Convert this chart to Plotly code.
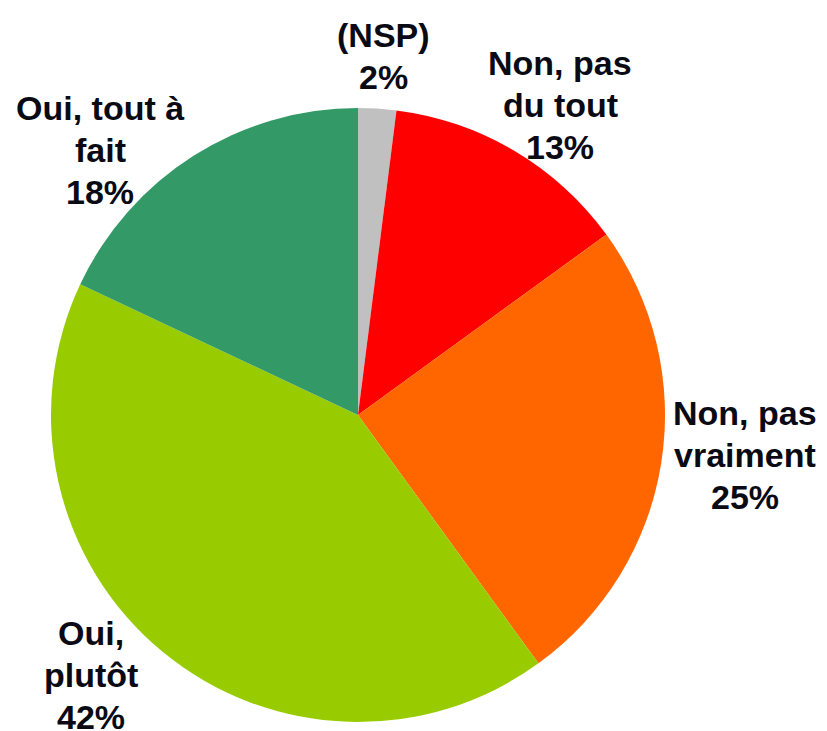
import plotly.graph_objects as go

# Data
categories = ["(NSP)", "Non, pas du tout", "Non, pas vraiment", "Oui, plutôt", "Oui, tout à fait"]
label_lines = [["(NSP)"], ["Non, pas", "du tout"], ["Non, pas", "vraiment"], ["Oui,", "plutôt"], ["Oui, tout à", "fait"]]
values = [2, 13, 25, 42, 18]
colors = ["#C0C0C0", "#FF0000", "#FF6600", "#99CC00", "#339966"]

# figure sits at an 8px body margin in the page
OFF = 8
W, H = 827 - OFF, 731 - OFF
cx, cy, r = 358 - OFF, 415 - OFF, 307

# label block centres in window pixels (layout only)
label_pos = [(383, 56), (560, 105), (745, 455), (91, 675), (100, 150)]
LINE = 42

fig = go.Figure(go.Pie(
    labels=categories,
    values=values,
    marker=dict(colors=colors, line=dict(width=0)),
    sort=False,
    direction="clockwise",
    rotation=0,
    textinfo="none",
    showlegend=False,
    domain=dict(x=[(cx - r) / W, (cx + r) / W], y=[(H - cy - r) / H, (H - cy + r) / H]),
))

for lines, v, (px, py) in zip(label_lines, values, label_pos):
    all_lines = lines + [f"{v}%"]
    n = len(all_lines)
    for i, t in enumerate(all_lines):
        ly = py + (i - (n - 1) / 2) * LINE - OFF
        fig.add_annotation(
            x=(px - OFF) / W, y=1 - ly / H, xref="paper", yref="paper",
            text=f"<b>{t}</b>", showarrow=False,
            xanchor="center", yanchor="middle", align="center",
            font=dict(family="Liberation Sans, Arial, sans-serif", size=34, color="#0A0A14"),
        )

fig.update_layout(
    width=W, height=H,
    margin=dict(l=0, r=0, t=0, b=0),
    paper_bgcolor="white", plot_bgcolor="white",
)

fig.write_html("out.html")
